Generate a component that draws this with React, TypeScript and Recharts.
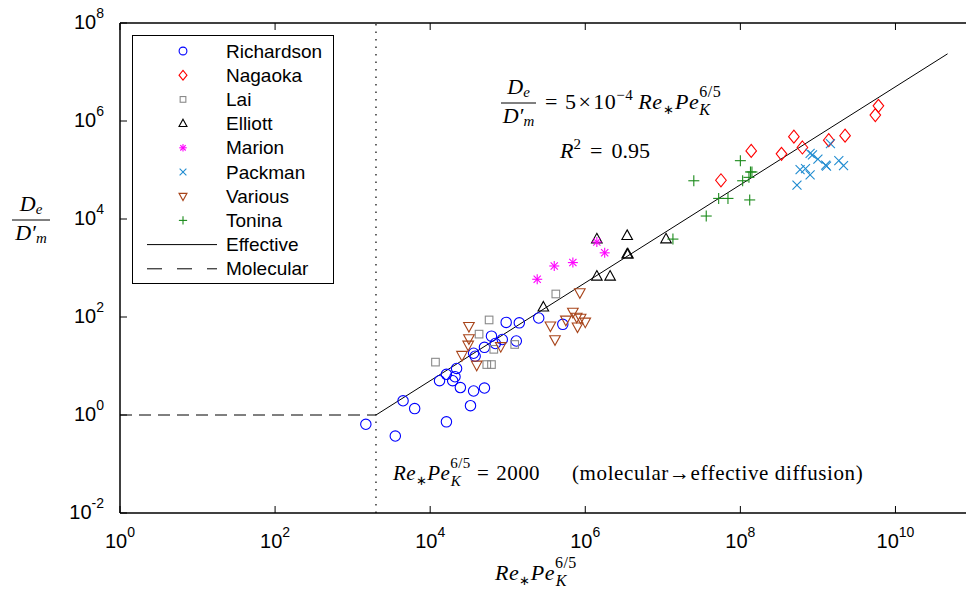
import React from 'react';
import { ScatterChart, Scatter, XAxis, YAxis, ReferenceLine, Legend } from 'recharts';

// ---------- data ----------
const richardsonX = [1.48e3, 3.55e3, 4.47e3, 6.31e3, 1.62e4, 1.32e4, 1.62e4, 1.95e4, 2.09e4, 2.19e4, 2.45e4, 3.31e4, 3.63e4, 5.01e4, 3.63e4, 3.8e4, 5.01e4, 6.17e4, 6.92e4, 8.51e4, 1.29e5, 9.55e4, 1.41e5, 2.51e5, 5.13e5];
const richardsonY = [0.646, 0.372, 1.95, 1.35, 0.724, 5.01, 6.76, 5.01, 6.03, 8.91, 3.63, 1.55, 3.09, 3.55, 18.2, 15.8, 24.0, 40.7, 28.8, 34.7, 32.4, 77.6, 75.9, 95.5, 70.8];

const nagaokaX = [5.62e7, 1.38e8, 3.39e8, 4.9e8, 6.31e8, 1.38e9, 2.24e9, 5.5e9, 6.03e9];
const nagaokaY = [6.17e4, 2.45e5, 2.14e5, 4.79e5, 2.88e5, 4.07e5, 5.01e5, 1.32e6, 2.04e6];

const laiX = [1.17e4, 5.75e4, 4.27e4, 6.61e4, 5.37e4, 6.17e4, 1.23e5, 4.17e5];
const laiY = [12.0, 87.1, 44.7, 21.9, 10.7, 10.7, 27.5, 295];

const elliottX = [2.88e5, 1.41e6, 2.09e6, 1.41e6, 3.47e6, 3.47e6, 3.55e6, 1.1e7];
const elliottY = [158, 676, 676, 3890, 4570, 1910, 1910, 3890];

const marionX = [2.4e5, 3.98e5, 6.92e5, 1.41e6, 1.78e6];
const marionY = [589, 1100, 1290, 3390, 2040];

const packmanX = [5.37e8, 5.89e8, 6.92e8, 7.94e8, 7.94e8, 8.51e8, 1.0e9, 1.26e9, 1.29e9, 1.45e9, 1.86e9, 2.14e9];
const packmanY = [4.9e4, 1.02e5, 1.07e5, 7.94e4, 2.19e5, 2.04e5, 1.66e5, 1.26e5, 1.2e5, 3.47e5, 1.55e5, 1.23e5];

const variousX = [3.16e4, 3.16e4, 3.09e4, 2.57e4, 3.98e4, 8.13e4, 3.55e5, 4.07e5, 8.51e5, 6.92e5, 5.62e5, 7.76e5, 8.71e5, 1.0e6, 7.94e5];
const variousY = [64.6, 36.3, 26.9, 16.6, 10.5, 25.1, 66.1, 34.7, 316, 126, 87.1, 100, 95.5, 79.4, 63.1];

const toninaX = [1.35e7, 2.51e7, 3.63e7, 5.25e7, 6.92e7, 1.0e8, 1.07e8, 1.35e8, 1.41e8, 1.29e8, 1.32e8];
const toninaY = [3890, 6.03e4, 1.15e4, 2.63e4, 2.63e4, 1.55e5, 6.03e4, 9.12e4, 9.12e4, 7.08e4, 2.45e4];

// fitted "Effective" line (De/D'm = 5e-4 Re*PeK^(6/5)) end points, and molecular limit
const effectiveX = [2000, 4.7e10];
const effectiveY = [1, 2.35e7];
const molecularX = [1, 2000];
const molecularY = [1, 1];
const thresholdX = 2000;

const xTicks = [1, 1e2, 1e4, 1e6, 1e8, 1e10];
const yTicks = [1e-2, 1, 1e2, 1e4, 1e6, 1e8];

const zip = (xs: number[], ys: number[]) => xs.map((x, i) => ({ x, y: ys[i] }));

// ---------- styling ----------
const SANS = '"Liberation Sans", Arial, Helvetica, sans-serif';
const SERIF = '"Liberation Serif", "Times New Roman", serif';

type Kind = 'circle' | 'diamond' | 'square' | 'triUp' | 'star' | 'cross' | 'triDown' | 'plus';

const series = [
  { name: 'Richardson', kind: 'circle' as Kind, color: '#0000ff', xs: richardsonX, ys: richardsonY },
  { name: 'Nagaoka', kind: 'diamond' as Kind, color: '#ff0000', xs: nagaokaX, ys: nagaokaY },
  { name: 'Lai', kind: 'square' as Kind, color: '#8a8a8a', xs: laiX, ys: laiY },
  { name: 'Elliott', kind: 'triUp' as Kind, color: '#000000', xs: elliottX, ys: elliottY },
  { name: 'Marion', kind: 'star' as Kind, color: '#ff00ff', xs: marionX, ys: marionY },
  { name: 'Packman', kind: 'cross' as Kind, color: '#1f8bd0', xs: packmanX, ys: packmanY },
  { name: 'Various', kind: 'triDown' as Kind, color: '#a8441a', xs: variousX, ys: variousY },
  { name: 'Tonina', kind: 'plus' as Kind, color: '#1a8a1a', xs: toninaX, ys: toninaY },
];

function Marker({ kind, cx, cy, color, s = 1 }: { kind: Kind; cx: number; cy: number; color: string; s?: number }) {
  const common = { stroke: color, fill: 'none', strokeWidth: 1.1 };
  switch (kind) {
    case 'circle':
      return <circle cx={cx} cy={cy} r={5.2 * s} {...common} />;
    case 'diamond':
      return <polygon points={`${cx},${cy - 6.5 * s} ${cx + 5.3 * s},${cy} ${cx},${cy + 6.5 * s} ${cx - 5.3 * s},${cy}`} {...common} />;
    case 'square':
      return <rect x={cx - 3.8 * s} y={cy - 3.8 * s} width={7.6 * s} height={7.6 * s} {...common} />;
    case 'triUp':
      return <polygon points={`${cx},${cy - 5.8 * s} ${cx + 5.3 * s},${cy + 3.8 * s} ${cx - 5.3 * s},${cy + 3.8 * s}`} {...common} />;
    case 'triDown':
      return <polygon points={`${cx - 5.3 * s},${cy - 3.8 * s} ${cx + 5.3 * s},${cy - 3.8 * s} ${cx},${cy + 5.8 * s}`} {...common} />;
    case 'star': {
      const r = 5 * s, d = 3.6 * s;
      return (
        <g {...common}>
          <line x1={cx - r} y1={cy} x2={cx + r} y2={cy} />
          <line x1={cx} y1={cy - r} x2={cx} y2={cy + r} />
          <line x1={cx - d} y1={cy - d} x2={cx + d} y2={cy + d} />
          <line x1={cx - d} y1={cy + d} x2={cx + d} y2={cy - d} />
        </g>
      );
    }
    case 'cross': {
      const d = 4.5 * s;
      return (
        <g {...common}>
          <line x1={cx - d} y1={cy - d} x2={cx + d} y2={cy + d} />
          <line x1={cx - d} y1={cy + d} x2={cx + d} y2={cy - d} />
        </g>
      );
    }
    case 'plus': {
      const r = 5.5 * s;
      return (
        <g {...common}>
          <line x1={cx - r} y1={cy} x2={cx + r} y2={cy} />
          <line x1={cx} y1={cy - r} x2={cx} y2={cy + r} />
        </g>
      );
    }
  }
  return null;
}

const expOf = (v: number) => Math.round(Math.log10(v));

const XTickBottom = (props: any) => {
  const { x, y, payload } = props;
  return (
    <g>
      <line x1={x} x2={x} y1={y} y2={y - 7} stroke="#000" strokeWidth={1} />
      <text x={x} y={y + 35} textAnchor="middle" fontFamily={SANS} fontSize={20} fill="#000">
        <tspan>10</tspan>
        <tspan dy={-11} fontSize={14}>{expOf(payload.value)}</tspan>
      </text>
    </g>
  );
};

const XTickTop = (props: any) => {
  const { x, y } = props;
  return <line x1={x} x2={x} y1={y} y2={y + 7} stroke="#000" strokeWidth={1} />;
};

const YTickLeft = (props: any) => {
  const { x, y, payload } = props;
  return (
    <g>
      <line x1={x} x2={x + 7} y1={y} y2={y} stroke="#000" strokeWidth={1} />
      <text x={x - 16} y={y + 6} textAnchor="end" fontFamily={SANS} fontSize={20} fill="#000">
        <tspan>10</tspan>
        <tspan dy={-11} fontSize={14}>{expOf(payload.value)}</tspan>
      </text>
    </g>
  );
};

const YTickRight = (props: any) => {
  const { x, y } = props;
  return <line x1={x} x2={x - 7} y1={y} y2={y} stroke="#000" strokeWidth={1} />;
};

const legendRows = [
  ...series.map((s) => ({ name: s.name, kind: s.kind as Kind | 'solid' | 'dashed', color: s.color })),
  { name: 'Effective', kind: 'solid' as const, color: '#000' },
  { name: 'Molecular', kind: 'dashed' as const, color: '#000' },
];

const LegendBox = () => (
  <svg width={202} height={249} style={{ display: 'block' }}>
    <rect x={0.5} y={0.5} width={201} height={248} fill="#fff" stroke="#000" strokeWidth={1} />
    {legendRows.map((r, i) => {
      const cy = 16 + i * 24.2;
      return (
        <g key={r.name}>
          {r.kind === 'solid' ? (
            <line x1={15} x2={85} y1={cy} y2={cy} stroke="#000" strokeWidth={1} />
          ) : r.kind === 'dashed' ? (
            <line x1={15} x2={85} y1={cy} y2={cy} stroke="#000" strokeWidth={1} strokeDasharray="15 15" />
          ) : (
            <Marker kind={r.kind as Kind} cx={51} cy={cy} color={r.color} s={0.75} />
          )}
          <text x={94} y={cy + 6.5} fontFamily={SANS} fontSize={19} fill="#000">
            {r.name}
          </text>
        </g>
      );
    })}
  </svg>
);

// Fraction De / D'm drawn around a centre (cx) with bar at y
const Frac = ({ cx, y, size, w }: { cx: number; y: number; size: number; w: number }) => (
  <g>
    <text x={cx} y={y - 9} textAnchor="middle" fontSize={size}>
      <tspan fontStyle="italic">D</tspan>
      <tspan fontSize={size * 0.68} fontStyle="italic" dy={3}>e</tspan>
    </text>
    <line x1={cx - w / 2} x2={cx + w / 2} y1={y} y2={y} stroke="#000" strokeWidth={1} />
    <text x={cx} y={y + 20} textAnchor="middle" fontSize={size}>
      <tspan fontStyle="italic">D′</tspan>
      <tspan fontSize={size * 0.68} fontStyle="italic" dy={3}>m</tspan>
    </text>
  </g>
);

const Overlay = () => (
  <svg width={966} height={595} style={{ position: 'absolute', left: 0, top: 0, pointerEvents: 'none' }} fontFamily={SERIF} fill="#000">
    {/* y axis label */}
    <Frac cx={31} y={220} size={22} w={38} />

    {/* fit equation */}
    <Frac cx={518.5} y={103} size={22} w={35} />
    <text x={545} y={109} fontSize={22} letterSpacing={0.5}>
      <tspan>=</tspan>
      <tspan dx={7}>5</tspan>
      <tspan dx={2}>×</tspan>
      <tspan dx={2}>10</tspan>
      <tspan fontSize={15} dy={-9}>−4</tspan>
      <tspan fontStyle="italic" dx={5} dy={9}>Re</tspan>
      <tspan fontSize={13} dy={5}>∗</tspan>
      <tspan fontStyle="italic" dx={1} dy={-5}>Pe</tspan>
      <tspan fontSize={16} dy={-12}>6/5</tspan>
      <tspan fontSize={16} fontStyle="italic" dx={-22} dy={18}>K</tspan>
    </text>
    <text x={560} y={158} fontSize={22}>
      <tspan fontStyle="italic">R</tspan>
      <tspan fontSize={15} dy={-9}>2</tspan>
      <tspan dx={9} dy={9}>=</tspan>
      <tspan dx={9}>0.95</tspan>
    </text>

    {/* threshold annotation */}
    <text x={393} y={480} fontSize={21} letterSpacing={0.4}>
      <tspan fontStyle="italic">Re</tspan>
      <tspan fontSize={13} dy={5}>∗</tspan>
      <tspan fontStyle="italic" dy={-5}>Pe</tspan>
      <tspan fontSize={15} dy={-12}>6/5</tspan>
      <tspan fontSize={15} fontStyle="italic" dx={-20} dy={18}>K</tspan>
      <tspan dx={16} dy={-6}>=</tspan>
      <tspan dx={7}>2000</tspan>
    </text>
    <text x={572} y={480} fontSize={21} letterSpacing={0.6}>(molecular→effective diffusion)</text>

    {/* x axis label */}
    <text x={495} y={580} fontSize={22} letterSpacing={0.5}>
      <tspan fontStyle="italic">Re</tspan>
      <tspan fontSize={13} dy={5}>∗</tspan>
      <tspan fontStyle="italic" dy={-5}>Pe</tspan>
      <tspan fontSize={16} dy={-12}>6/5</tspan>
      <tspan fontSize={16} fontStyle="italic" dx={-21} dy={18}>K</tspan>
    </text>
  </svg>
);

export default function App() {
  return (
    <div style={{ position: 'absolute', left: 0, top: 0, width: 966, height: 595, overflow: 'hidden', background: '#fff' }}>
      <ScatterChart width={974} height={595} margin={{ top: 22, right: 0, bottom: 0, left: 0 }}>
        <XAxis
          type="number"
          dataKey="x"
          scale="log"
          domain={[1, 1e11]}
          ticks={xTicks}
          interval={0}
          allowDataOverflow
          height={82}
          tickSize={0}
          tickMargin={0}
          tick={<XTickBottom />}
          axisLine={{ stroke: '#000', strokeWidth: 1.5 }}
        />
        <XAxis
          xAxisId="top"
          orientation="top"
          type="number"
          dataKey="x"
          scale="log"
          domain={[1, 1e11]}
          ticks={xTicks}
          interval={0}
          allowDataOverflow
          height={1}
          tickSize={0}
          tickMargin={0}
          tick={<XTickTop />}
          axisLine={{ stroke: '#000', strokeWidth: 1.5 }}
        />
        <YAxis
          type="number"
          dataKey="y"
          scale="log"
          domain={[1e-2, 1e8]}
          ticks={yTicks}
          interval={0}
          allowDataOverflow
          width={120}
          tickSize={0}
          tickMargin={0}
          tick={<YTickLeft />}
          axisLine={{ stroke: '#000', strokeWidth: 1.5 }}
        />
        <YAxis
          yAxisId="right"
          orientation="right"
          type="number"
          dataKey="y"
          scale="log"
          domain={[1e-2, 1e8]}
          ticks={yTicks}
          interval={0}
          allowDataOverflow
          width={1}
          tickSize={0}
          tickMargin={0}
          tick={<YTickRight />}
          axisLine={{ stroke: '#000', strokeWidth: 1.5 }}
        />
        <ReferenceLine x={thresholdX} stroke="#000" strokeWidth={1.2} strokeDasharray="1.5 6" />
        <ReferenceLine
          segment={[{ x: molecularX[0], y: molecularY[0] }, { x: molecularX[1], y: molecularY[1] }]}
          stroke="#000"
          strokeWidth={1}
          strokeDasharray="12 7"
        />
        <ReferenceLine
          segment={[{ x: effectiveX[0], y: effectiveY[0] }, { x: effectiveX[1], y: effectiveY[1] }]}
          stroke="#000"
          strokeWidth={1}
        />
        {series.map((s) => (
          <Scatter
            key={s.name}
            name={s.name}
            data={zip(s.xs, s.ys)}
            isAnimationActive={false}
            shape={(p: any) => <Marker kind={s.kind} cx={p.cx} cy={p.cy} color={s.color} />}
          />
        ))}
        <Legend
          layout="vertical"
          align="center"
          verticalAlign="middle"
          wrapperStyle={{ left: 132, top: 35, width: 202, height: 249 }}
          content={() => <LegendBox />}
        />
      </ScatterChart>
      <Overlay />
    </div>
  );
}
